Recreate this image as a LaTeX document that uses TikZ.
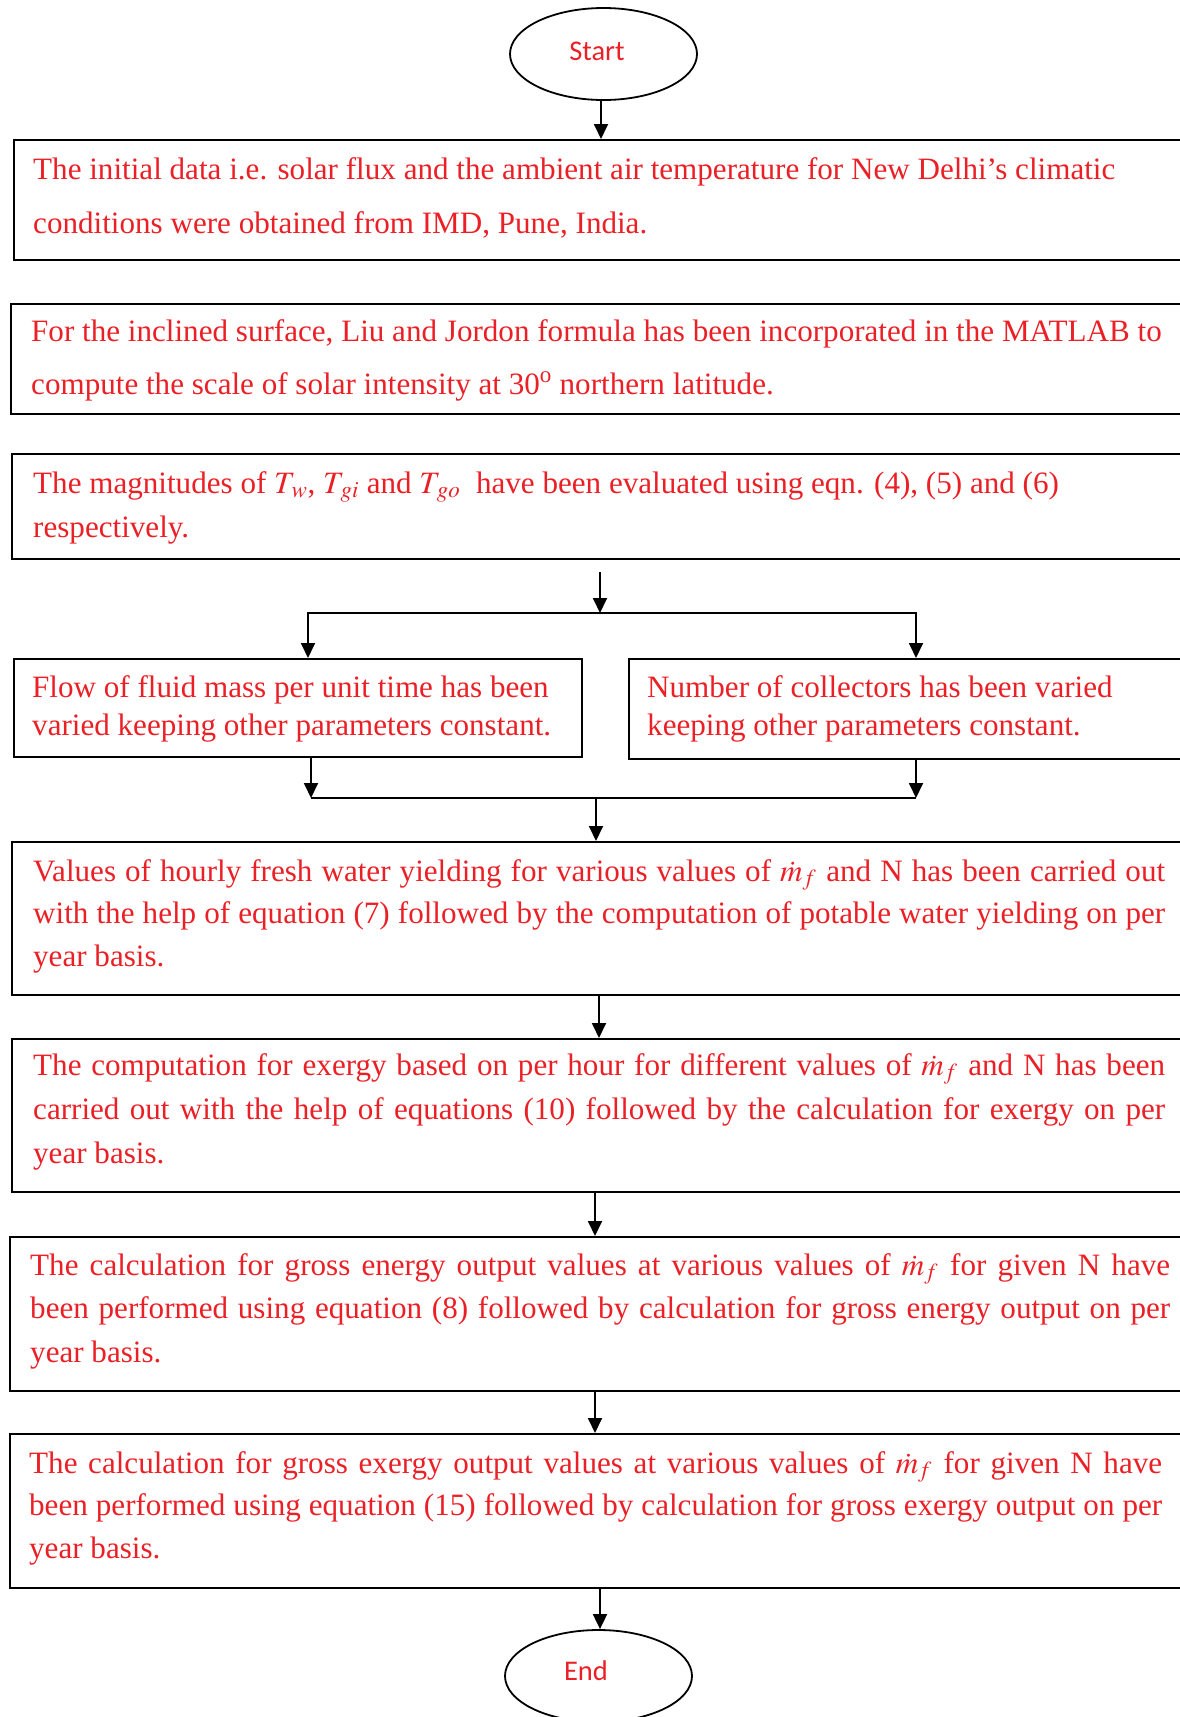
\documentclass[tikz,border=0pt]{standalone}
\usepackage{mathptmx}
\usepackage{fontspec}
\setmainfont{Liberation Serif}
\newfontfamily\carl{Carlito}
\usetikzlibrary{shapes.geometric,arrows.meta,calc}
\definecolor{txtred}{RGB}{235,32,38}
\newcommand\firststrut{\rule{0pt}{25pt}}
\newcommand\jline[2]{\makebox[#1][s]{#2}}
\newcommand\mdotf{$\dot{m}_{f}$\kern1pt}
\tikzset{
  box/.style={draw, line width=2pt, rectangle, inner sep=0pt, anchor=north west},
  txt/.style={anchor=north west, inner sep=0pt, text=txtred, align=left},
  arr/.style={line width=1.8pt, -{Triangle[length=15pt,width=14pt]}},
  plain/.style={line width=1.8pt},
  term/.style={draw, ellipse, line width=1.8pt, minimum width=187pt, minimum height=92pt, inner sep=0pt},
  termtxt/.style={anchor=base, inner sep=0pt, text=txtred, font=\carl\fontsize{28.5}{34}\selectfont}
}
\begin{document}
\begin{tikzpicture}[x=1pt,y=-1pt]
\useasboundingbox (0,0) rectangle (1180,1717);
\clip (0,0) rectangle (1180,1717);

% terminals
\node[term] (start) at (603.5,54) {};
\node[termtxt] (starttxt) at (597,60) {Start};
\node[term] (end) at (598.5,1676) {};
\node[termtxt] (endtxt) at (586,1680) {End};

% boxes
\node[box, minimum width=1187pt, minimum height=120pt] (b1) at (13,139) {};
\node[box, minimum width=1190pt, minimum height=110pt] (b2) at (10,303) {};
\node[box, minimum width=1189pt, minimum height=105pt] (b3) at (11,453) {};
\node[box, minimum width=568pt, minimum height=98pt] (pl) at (13,658) {};
\node[box, minimum width=572pt, minimum height=100pt] (pr) at (628,658) {};
\node[box, minimum width=1189pt, minimum height=153pt] (b4) at (11,841) {};
\node[box, minimum width=1189pt, minimum height=153pt] (b5) at (11,1038) {};
\node[box, minimum width=1191pt, minimum height=154pt] (b6) at (9,1236) {};
\node[box, minimum width=1191pt, minimum height=154pt] (b7) at (9,1433) {};

% texts
\node[txt, font=\fontsize{31.1}{54}\selectfont] (t1) at (33,154)
  {\firststrut The initial data i.e. solar flux and the ambient air temperature for New Delhi’s climatic\\
   conditions were obtained from IMD, Pune, India.};
\node[txt, font=\fontsize{31.1}{53}\selectfont] (t2) at (31,316)
  {\firststrut For the inclined surface, Liu and Jordon formula has been incorporated in the MATLAB to\\
   compute the scale of solar intensity at 30\textsuperscript{o} northern latitude.};
\node[txt, font=\fontsize{31.1}{44}\selectfont] (t3) at (33,468)
  {\firststrut The magnitudes of $T_{\,w}$, $T_{\,gi}$ and $T_{\,go}$\ \ have been evaluated using eqn. (4), (5) and (6)\\
   respectively.};
\node[txt, font=\fontsize{31.1}{38}\selectfont] (tl) at (32,672)
  {\firststrut Flow of fluid mass per unit time has been\\
   varied keeping other parameters constant.};
\node[txt, font=\fontsize{31.1}{38}\selectfont] (tr) at (647,672)
  {\firststrut Number of collectors has been varied\\
   keeping other parameters constant.};
\node[txt, font=\fontsize{31.1}{42.5}\selectfont] (t4) at (33,856)
  {\firststrut\jline{1132pt}{Values of hourly fresh water yielding for various values of \mdotf{} and N has been carried out}\\
   \jline{1132pt}{with the help of equation (7) followed by the computation of potable water yielding on per}\\
   year basis.};
\node[txt, font=\fontsize{31.1}{44}\selectfont] (t5) at (33,1050)
  {\firststrut\jline{1132pt}{The computation for exergy based on per hour for different values of \mdotf{} and N has been}\\
   \jline{1132pt}{carried out with the help of equations (10) followed by the calculation for exergy on per}\\
   year basis.};
\node[txt, font=\fontsize{31.1}{43.5}\selectfont] (t6) at (30,1250)
  {\firststrut\jline{1140pt}{The calculation for gross energy output values at various values of \mdotf{} for given N have}\\
   \jline{1140pt}{been performed using equation (8) followed by calculation for gross energy output on per}\\
   year basis.};
\node[txt, font=\fontsize{31.1}{42.5}\selectfont] (t7) at (29,1448)
  {\firststrut\jline{1133pt}{The calculation for gross exergy output values at various values of \mdotf{} for given N have}\\
   \jline{1133pt}{been performed using equation (15) followed by calculation for gross exergy output on per}\\
   year basis.};

% connectors
\draw[arr] (601,0 |- start.south) -- (601,0 |- b1.north);
\coordinate (s0) at (600,572);
\coordinate (s1) at (600,613);
\draw[arr] (s0) -- (s1);
\draw[arr] (s1) -| (308,0 |- pl.north);
\draw[arr] (s1) -| (916,0 |- pr.north);
\coordinate (m1) at (311,798);
\coordinate (m2) at (916,798);
\coordinate (m0) at (596,798);
\draw[arr] (311,0 |- pl.south) -- (m1);
\draw[arr] (916,0 |- pr.south) -- (m2);
\draw[plain] (m1) -- (m2);
\draw[arr] (m0) -- (596,0 |- b4.north);
\draw[arr] (599,0 |- b4.south) -- (599,0 |- b5.north);
\draw[arr] (595,0 |- b5.south) -- (595,0 |- b6.north);
\draw[arr] (595,0 |- b6.south) -- (595,0 |- b7.north);
\draw[arr] (600,0 |- b7.south) -- (600,0 |- end.north);
\end{tikzpicture}
\end{document}
